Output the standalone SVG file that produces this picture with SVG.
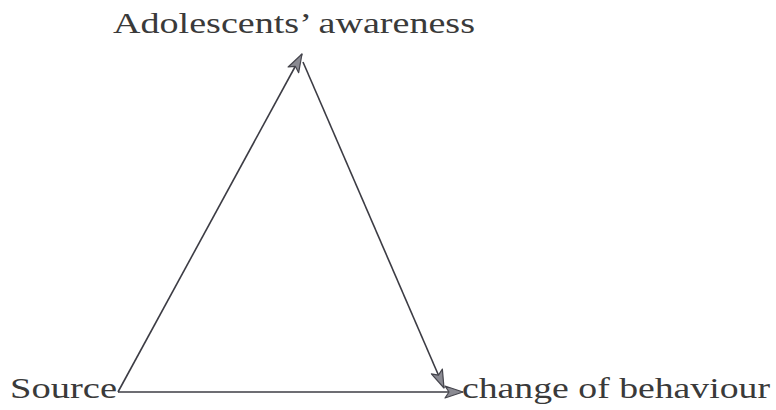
<svg xmlns="http://www.w3.org/2000/svg" width="776" height="410" viewBox="0 0 776 410">
  <defs>
    <style>
      .lbl { font-family: "Liberation Serif", "DejaVu Serif", serif; font-size: 29px; fill: #3a3a3a; }
      .edge { stroke: #3c3c44; stroke-width: 1.6; fill: none; }
    </style>
    <marker id="ah" viewBox="0 0 20 14" refX="19" refY="7" markerWidth="20" markerHeight="14" markerUnits="userSpaceOnUse" orient="auto">
      <path d="M1,1 L19,7 L1,13 L5,7 Z" fill="#8a8a92" stroke="#45454d" stroke-width="1.2" stroke-linejoin="round"/>
    </marker>
  </defs>
  <rect width="776" height="410" fill="#ffffff"/>
  <g id="awareness">
    <text class="lbl" x="113" y="33" textLength="362" lengthAdjust="spacingAndGlyphs">Adolescents’ awareness</text>
  </g>
  <g id="source">
    <text class="lbl" x="10" y="398" textLength="107" lengthAdjust="spacingAndGlyphs">Source</text>
  </g>
  <g id="behaviour">
    <text class="lbl" x="462" y="398" textLength="308" lengthAdjust="spacingAndGlyphs">change of behaviour</text>
  </g>
  <g id="connectors">
    <line class="edge" x1="118" y1="392" x2="302" y2="54" marker-end="url(#ah)"/>
    <line class="edge" x1="303" y1="62" x2="444" y2="388" marker-end="url(#ah)"/>
    <line class="edge" x1="118" y1="392" x2="463" y2="392" marker-end="url(#ah)"/>
  </g>
</svg>
